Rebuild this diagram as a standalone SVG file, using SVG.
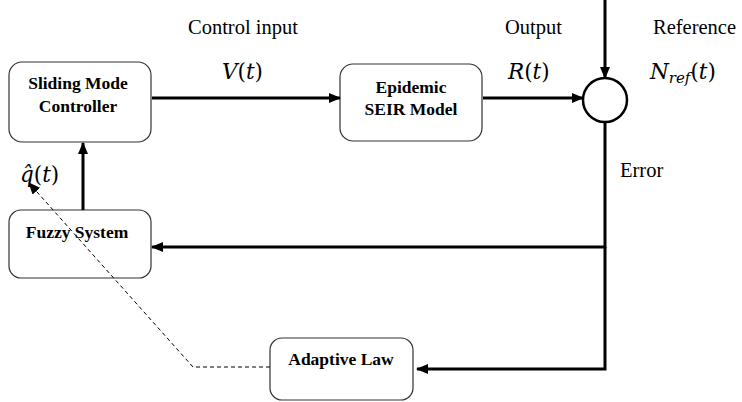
<svg xmlns="http://www.w3.org/2000/svg" width="742" height="402" viewBox="0 0 742 402">
<defs>
<marker id="ah" markerWidth="12" markerHeight="10" refX="11" refY="5" orient="auto" markerUnits="userSpaceOnUse">
<path d="M0,0 L12,5 L0,10 Z" fill="#000"/>
</marker>
<style>
.box{fill:#fff;stroke:#333;stroke-width:1.2}
.bt{font-family:'Liberation Serif','Times New Roman',serif;font-weight:bold;font-size:17.5px;text-anchor:middle;fill:#000}
.lb{font-family:'Liberation Serif','Times New Roman',serif;font-size:20.5px;fill:#000}
.m{font-family:'DejaVu Serif','Liberation Serif',serif;font-size:21.5px;fill:#000}
.it{font-style:italic}
.c{fill:none;stroke:#000;stroke-width:3}
.d{fill:none;stroke:#000;stroke-width:1;stroke-dasharray:4,3}
</style>
</defs>
<rect width="742" height="402" fill="#fff"/>
<g id="smc">
<rect class="box" x="9" y="62" width="142" height="80" rx="13"/>
<text class="bt" x="78" y="89">Sliding Mode</text>
<text class="bt" x="78" y="112">Controller</text>
</g>
<g id="seir">
<rect class="box" x="340" y="64" width="142" height="77" rx="13"/>
<text class="bt" x="411" y="93">Epidemic</text>
<text class="bt" x="411" y="115">SEIR Model</text>
</g>
<g id="sum">
<circle cx="605" cy="100" r="22" fill="#fff" stroke="#000" stroke-width="2.5"/>
</g>
<g id="fuzzy">
<rect class="box" x="9" y="210" width="142" height="68" rx="12"/>
<text class="bt" x="77" y="238">Fuzzy System</text>
</g>
<g id="adaptive">
<rect class="box" x="270" y="338" width="143" height="62" rx="12"/>
<text class="bt" x="341" y="365">Adaptive Law</text>
</g>
<g id="labels">
<text class="lb" x="188" y="34">Control input</text>
<text class="m" x="222" y="79"><tspan class="it">V</tspan>(<tspan class="it">t</tspan>)</text>
<text class="lb" x="505" y="34">Output</text>
<text class="m" x="508" y="79"><tspan class="it">R</tspan>(<tspan class="it">t</tspan>)</text>
<text class="lb" x="653" y="34">Reference</text>
<text class="m" x="650" y="79"><tspan class="it">N</tspan><tspan class="it" font-size="15" dy="4">ref</tspan><tspan dy="-4">(</tspan><tspan class="it">t</tspan>)</text>
<text class="lb" x="620" y="177">Error</text>
<text class="m" x="20" y="182"><tspan class="it">q̂</tspan>(<tspan class="it">t</tspan>)</text>
</g>
<g id="connectors">
<line class="c" x1="152" y1="98" x2="340" y2="98" marker-end="url(#ah)"/>
<line class="c" x1="483" y1="98" x2="583" y2="98" marker-end="url(#ah)"/>
<line class="c" x1="605" y1="0" x2="605" y2="78" marker-end="url(#ah)"/>
<polyline class="c" points="605,122 605,247 152,247" marker-end="url(#ah)"/>
<polyline class="c" points="605,247 605,369 417,369" marker-end="url(#ah)"/>
<line class="c" x1="83" y1="210" x2="83" y2="143" marker-end="url(#ah)"/>
<polyline class="d" points="270,367 193,367 29,183" marker-end="url(#ah)"/>
</g>
</svg>
